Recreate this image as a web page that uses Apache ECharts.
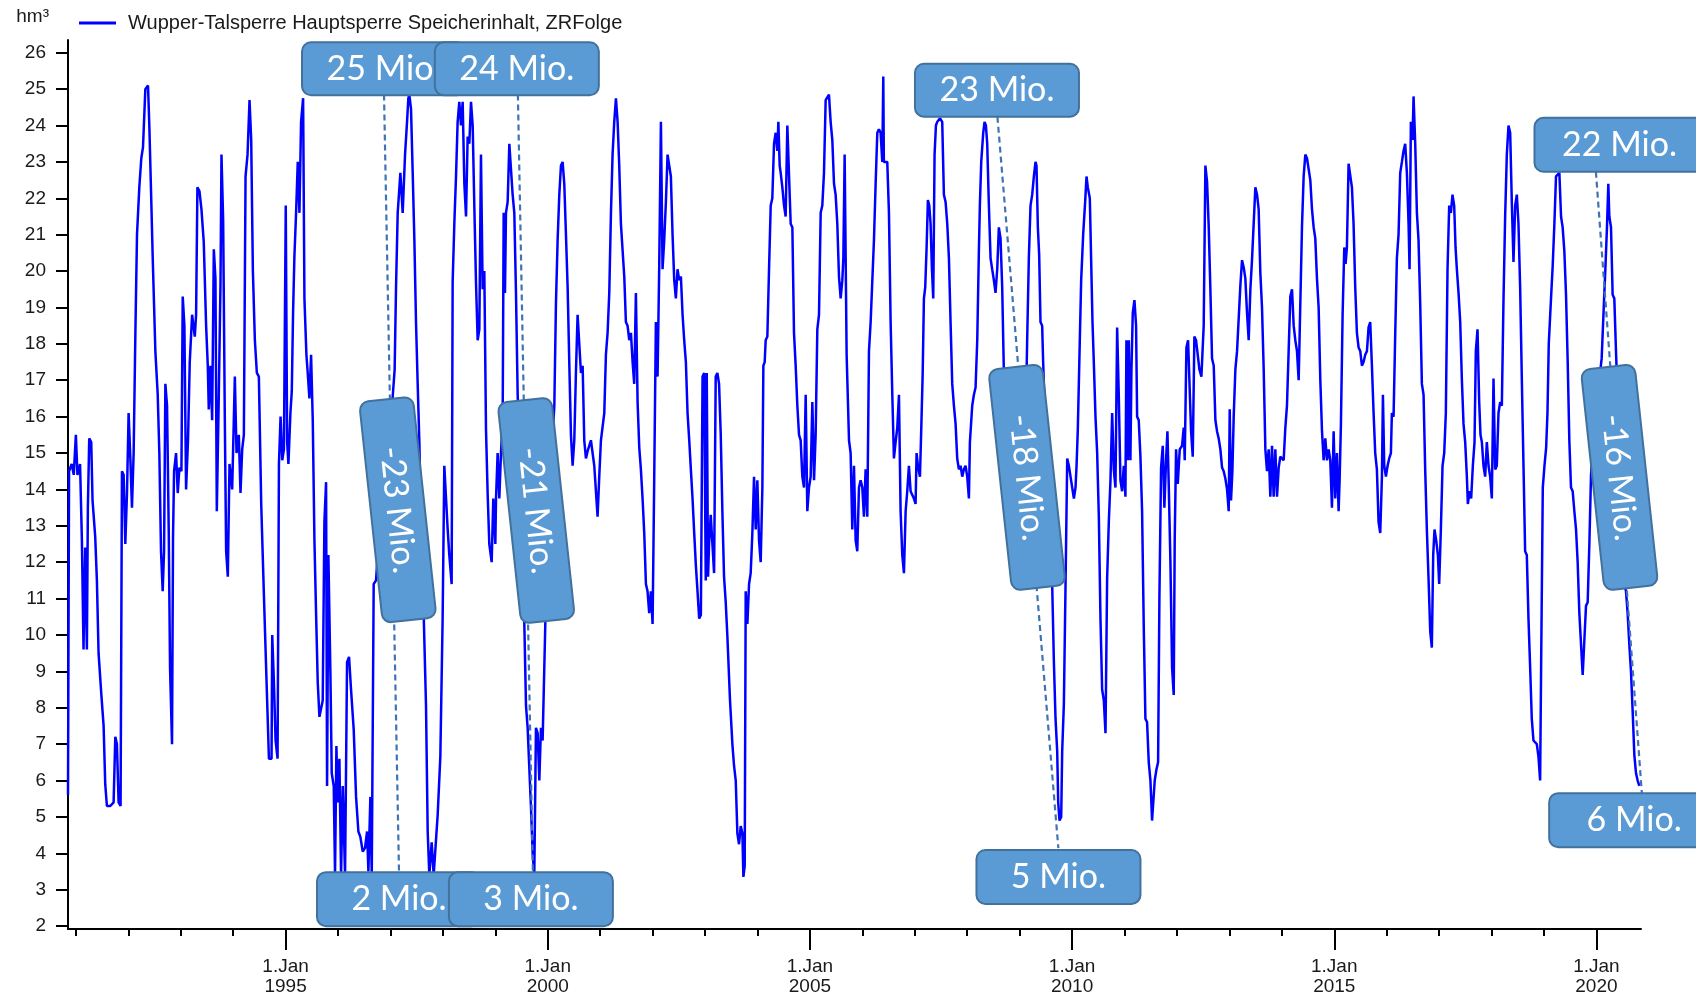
<!DOCTYPE html>
<html>
<head>
<meta charset="utf-8">
<script src="https://cdn.jsdelivr.net/npm/echarts@6/dist/echarts.min.js"></script>
<style>
html,body{margin:0;padding:0;background:#fff;}
#chart{width:1696px;height:997px;}
</style>
</head>
<body>
<div id="chart"></div>
<script>
const seriesName = 'Wupper-Talsperre Hauptsperre Speicherinhalt, ZRFolge';
const unitLabel = 'hm³';
const xMinorTicks = [1991,1992,1993,1994,1995,1996,1997,1998,1999,2000,2001,2002,2003,2004,2005,2006,2007,2008,2009,2010,2011,2012,2013,2014,2015,2016,2017,2018,2019,2020];
const xMajorTicks = [1995,2000,2005,2010,2015,2020];
const yTicks = [2,3,4,5,6,7,8,9,10,11,12,13,14,15,16,17,18,19,20,21,22,23,24,25,26];

// [decimal year, storage hm³]
const seg1991 = [[1990.85,5.6],[1990.87,14.5],[1990.92,14.7],[1990.96,14.4],[1991.0,15.5],[1991.03,14.4],[1991.08,14.7],[1991.10,14.7],[1991.115,12.6],[1991.146,9.6],[1991.178,12.4],[1991.21,9.6],[1991.229,13.5],[1991.255,15.4],[1991.293,15.3],[1991.318,13.7],[1991.369,12.7],[1991.401,11.5],[1991.433,9.5],[1991.484,8.4],[1991.529,7.5],[1991.56,5.9],[1991.592,5.3],[1991.656,5.3],[1991.72,5.4],[1991.752,7.2],[1991.783,7.0],[1991.815,5.4],[1991.853,5.3],[1991.879,14.5],[1991.911,14.4],[1991.943,12.5],[1991.975,13.9],[1992.006,16.1],[1992.038,14.9],[1992.07,13.5],[1992.102,15.0],[1992.134,18.2],[1992.166,21.0],[1992.21,22.3],[1992.248,23.1],[1992.28,23.4],[1992.325,25.0],[1992.376,25.1],[1992.401,24.0],[1992.439,21.9],[1992.465,20.4],[1992.516,17.8],[1992.561,16.6],[1992.592,15.0],[1992.624,12.3],[1992.656,11.2],[1992.682,12.3],[1992.707,16.9],[1992.739,16.3],[1992.771,12.9],[1992.796,9.1],[1992.834,7.0],[1992.853,12.7],[1992.873,14.5],[1992.911,15.0],[1992.943,13.9],[1992.975,14.6],[1993.013,14.5],[1993.038,19.3],[1993.07,18.5],[1993.102,14.0],[1993.14,15.4],[1993.172,17.5],[1993.217,18.8],[1993.268,18.2],[1993.293,18.8],[1993.318,22.3],[1993.357,22.2],[1993.395,21.7],[1993.439,20.8],[1993.484,18.5],[1993.516,17.4],[1993.535,16.2],[1993.567,17.4],[1993.599,15.9],[1993.631,20.6],[1993.662,19.8],[1993.688,13.4],[1993.726,16.6],[1993.758,19.6],[1993.777,23.2],[1993.809,21.4],[1993.841,15.9],[1993.866,12.3],[1993.898,11.6],[1993.93,14.7],[1993.981,14.0],[1994.032,17.1],[1994.064,15.0],[1994.108,15.5],[1994.14,13.9],[1994.172,15.1],[1994.204,15.5],[1994.236,22.6],[1994.274,23.2],[1994.312,24.7],[1994.344,23.6],[1994.376,20.0],[1994.414,18.1],[1994.452,17.2],[1994.49,17.1],[1994.535,13.6],[1994.58,11.4],[1994.618,9.6],[1994.65,8.1],[1994.682,6.6],[1994.732,6.6],[1994.745,10.0],[1994.777,8.7],[1994.809,7.1],[1994.847,6.6],[1994.873,14.7],[1994.904,16.0],[1994.936,14.8],[1994.968,15.1]];
const seg1995 = [[1995.003,21.8],[1995.029,15.3],[1995.054,14.7],[1995.092,16.1],[1995.118,16.7],[1995.143,18.9],[1995.168,20.4],[1995.2,21.6],[1995.232,23.0],[1995.264,21.6],[1995.295,24.1],[1995.334,24.75],[1995.359,19.25],[1995.397,17.7],[1995.422,17.2],[1995.454,16.5],[1995.486,17.7],[1995.518,15.9],[1995.55,12.6],[1995.581,10.6],[1995.613,8.7],[1995.645,7.75],[1995.677,7.7],[1995.708,8.2],[1995.74,13.1],[1995.772,14.2],[1995.791,5.85],[1995.816,12.2],[1995.854,9.0],[1995.88,6.2],[1995.918,5.85],[1995.943,3.4],[1995.969,6.95],[1995.994,5.4],[1996.026,6.6],[1996.058,3.4],[1996.09,5.85],[1996.134,3.4],[1996.172,9.25],[1996.21,9.4],[1996.248,8.5],[1996.299,7.4],[1996.344,5.55],[1996.388,4.6],[1996.426,4.45],[1996.471,4.05],[1996.515,4.15],[1996.554,4.6],[1996.579,3.5],[1996.617,5.55],[1996.643,3.4],[1996.68,11.4],[1996.725,11.5],[1996.769,12.5],[1996.82,13.1],[1996.884,13.4],[1996.947,15.7],[1997.03,16.3],[1997.08,17.3],[1997.106,19.55],[1997.138,21.6],[1997.189,22.7],[1997.233,21.6],[1997.278,23.2],[1997.316,24.1],[1997.341,24.75],[1997.36,24.85],[1997.392,24.45],[1997.424,22.7],[1997.456,20.85],[1997.487,18.6],[1997.519,16.9],[1997.551,15.3],[1997.583,12.9],[1997.633,10.6],[1997.678,8.05],[1997.71,4.6],[1997.741,3.4],[1997.786,4.3],[1997.824,3.4],[1997.85,3.4],[1997.9,5.05],[1997.951,6.65],[1997.995,10.45],[1998.027,14.65],[1998.059,14.65],[1998.091,12.9],[1998.122,12.2],[1998.167,11.4],[1998.186,19.7],[1998.218,21.3],[1998.25,22.6],[1998.281,24.1],[1998.313,24.65],[1998.345,24.0],[1998.377,24.65],[1998.409,22.4],[1998.441,21.5],[1998.472,23.7],[1998.504,23.5],[1998.536,24.65],[1998.568,24.0],[1998.599,21.8],[1998.631,19.7],[1998.663,18.1],[1998.695,18.4],[1998.726,23.2],[1998.758,19.5],[1998.79,20.0],[1998.822,15.65],[1998.853,13.9],[1998.885,12.5],[1998.93,12.0],[1998.961,13.75],[1999.0,12.5]];
const seg1999 = [[1999.013,13.75],[1999.044,15.0],[1999.076,13.75],[1999.108,15.0],[1999.14,15.95],[1999.159,21.6],[1999.184,19.4],[1999.203,21.6],[1999.235,21.9],[1999.267,23.5],[1999.299,23.5],[1999.33,22.1],[1999.362,21.6],[1999.394,19.4],[1999.426,16.6],[1999.49,13.2],[1999.553,10.3],[1999.585,8.05],[1999.616,7.45],[1999.648,6.35],[1999.68,5.25],[1999.712,4.0],[1999.743,3.4],[1999.775,7.45],[1999.807,7.3],[1999.839,6.0],[1999.87,7.45],[1999.902,7.1],[1999.934,7.1],[1999.953,10.3],[1999.97,12.0],[2000.05,14.3],[2000.125,16.3],[2000.156,19.1],[2000.188,20.85],[2000.22,22.1],[2000.252,22.9],[2000.283,23.0],[2000.315,22.4],[2000.347,21.0],[2000.379,19.55],[2000.41,17.5],[2000.442,15.5],[2000.474,14.65],[2000.506,15.35],[2000.537,17.2],[2000.569,18.8],[2000.601,18.0],[2000.633,17.2],[2000.665,17.4],[2000.696,15.35],[2000.728,14.85],[2000.76,15.05],[2000.823,15.35],[2000.887,14.65],[2000.95,13.25],[2000.982,14.35],[2001.014,15.35],[2001.078,16.1],[2001.109,17.7],[2001.141,18.3],[2001.173,19.4],[2001.205,21.6],[2001.236,23.2],[2001.268,24.1],[2001.3,24.75],[2001.332,24.1],[2001.363,22.9],[2001.395,21.3],[2001.459,19.85],[2001.49,18.6],[2001.522,18.5],[2001.554,18.1],[2001.586,18.3],[2001.618,17.5],[2001.649,16.9],[2001.681,19.4],[2001.713,16.4],[2001.745,15.15],[2001.776,14.55],[2001.808,13.75],[2001.84,12.8],[2001.872,11.4],[2001.903,11.2],[2001.935,10.6],[2001.967,11.2],[2001.999,10.3],[2002.03,14.25],[2002.062,18.6],[2002.094,17.1],[2002.126,20.15],[2002.158,24.1],[2002.189,20.05],[2002.221,20.85],[2002.253,21.9],[2002.285,23.2],[2002.348,22.6],[2002.38,21.0],[2002.412,19.75],[2002.443,19.25],[2002.475,20.05],[2002.507,19.75],[2002.539,19.85],[2002.571,18.8],[2002.602,18.1],[2002.634,17.5],[2002.666,16.1],[2002.698,15.35],[2002.729,14.55],[2002.761,13.75],[2002.793,12.8],[2002.825,11.9],[2002.856,11.2],[2002.888,10.45],[2002.92,10.55],[2002.952,17.1],[2002.983,17.2]];
const seg2003 = [[2003.013,11.5],[2003.032,17.2],[2003.057,11.6],[2003.076,12.5],[2003.108,13.3],[2003.14,12.5],[2003.172,11.7],[2003.203,17.1],[2003.235,17.2],[2003.267,16.9],[2003.299,15.5],[2003.33,13.4],[2003.362,11.6],[2003.394,10.9],[2003.426,9.95],[2003.476,8.2],[2003.521,7.0],[2003.553,6.4],[2003.585,6.0],[2003.616,4.55],[2003.648,4.25],[2003.68,4.75],[2003.712,4.55],[2003.731,3.35],[2003.756,3.65],[2003.775,11.2],[2003.807,10.3],[2003.839,11.4],[2003.87,11.7],[2003.902,12.8],[2003.934,14.35],[2003.966,12.9],[2003.997,14.25],[2004.029,12.6],[2004.061,12.0],[2004.093,14.05],[2004.112,17.4],[2004.137,17.5],[2004.156,18.1],[2004.188,18.2],[2004.22,20.05],[2004.252,21.8],[2004.283,22.0],[2004.315,23.5],[2004.347,23.8],[2004.379,23.3],[2004.398,24.1],[2004.423,22.9],[2004.442,22.7],[2004.474,22.3],[2004.506,21.8],[2004.537,21.5],[2004.569,24.0],[2004.601,24.0],[2004.633,21.3],[2004.665,21.2],[2004.696,18.3],[2004.728,17.4],[2004.76,16.3],[2004.792,15.5],[2004.823,15.35],[2004.855,14.35],[2004.887,14.05],[2004.919,16.6],[2004.95,13.4],[2004.982,14.05],[2005.014,14.35],[2005.046,16.4],[2005.078,14.25],[2005.109,15.5],[2005.141,18.4],[2005.173,18.8],[2005.205,21.6],[2005.236,21.8],[2005.268,22.7],[2005.3,24.7],[2005.332,24.75],[2005.363,24.85],[2005.395,24.1],[2005.427,23.6],[2005.459,22.4],[2005.49,22.1],[2005.522,21.3],[2005.554,19.85],[2005.586,19.25],[2005.618,19.75],[2005.637,20.35],[2005.662,23.2],[2005.681,23.2],[2005.7,17.7],[2005.745,15.35],[2005.776,15.0],[2005.808,12.9],[2005.84,14.65],[2005.872,12.6],[2005.903,12.3],[2005.935,14.05],[2005.967,14.25],[2005.999,14.05],[2006.03,13.25],[2006.062,14.55],[2006.094,13.25],[2006.126,17.8],[2006.158,18.6],[2006.189,18.6],[2006.221,20.85],[2006.253,22.4],[2006.285,23.8],[2006.316,23.9],[2006.348,23.8],[2006.38,23.0],[2006.399,25.35],[2006.41,23.0],[2006.443,23.0],[2006.475,23.0],[2006.507,21.6],[2006.539,18.6],[2006.571,16.6],[2006.602,14.85],[2006.634,15.3],[2006.666,15.7],[2006.698,16.6],[2006.729,13.4],[2006.761,12.2],[2006.793,11.7],[2006.825,13.4],[2006.856,13.95],[2006.888,14.65],[2006.92,13.95],[2006.952,13.95],[2006.983,13.75]];
const seg2007 = [[2007.015,13.6],[2007.034,15.0],[2007.06,14.65],[2007.098,14.35],[2007.123,15.65],[2007.149,17.1],[2007.174,19.25],[2007.199,19.55],[2007.225,20.65],[2007.25,21.95],[2007.276,21.8],[2007.301,21.3],[2007.327,20.05],[2007.352,19.25],[2007.377,23.2],[2007.403,24.0],[2007.428,24.1],[2007.479,24.2],[2007.523,24.1],[2007.555,22.1],[2007.587,21.9],[2007.619,21.3],[2007.651,20.35],[2007.682,18.6],[2007.714,16.9],[2007.746,16.3],[2007.778,15.8],[2007.809,14.85],[2007.841,14.55],[2007.873,14.65],[2007.905,14.35],[2007.936,14.55],[2007.968,14.65],[2008.0,14.35],[2008.032,13.75],[2008.051,15.3],[2008.076,15.25],[2008.095,16.3],[2008.127,16.6],[2008.159,16.8],[2008.191,18.1],[2008.222,20.55],[2008.241,21.8],[2008.267,23.0],[2008.305,23.8],[2008.33,24.1],[2008.356,24.0],[2008.381,23.5],[2008.413,21.8],[2008.445,20.35],[2008.476,20.05],[2008.508,19.75],[2008.54,19.4],[2008.572,20.05],[2008.603,21.2],[2008.635,20.9],[2008.667,19.55],[2008.699,17.2],[2008.76,15.3],[2008.85,14.3],[2008.95,14.6],[2009.05,15.3],[2009.12,16.3],[2009.143,18.1],[2009.175,20.35],[2009.207,21.8],[2009.239,22.1],[2009.271,22.6],[2009.302,23.0],[2009.321,22.9],[2009.347,21.2],[2009.372,20.45],[2009.397,18.6],[2009.429,18.5],[2009.448,17.5],[2009.5,15.3],[2009.56,12.7],[2009.62,11.4],[2009.652,9.3],[2009.684,7.7],[2009.716,6.8],[2009.735,5.4],[2009.76,4.9],[2009.792,5.0],[2009.811,6.8],[2009.843,8.1],[2009.875,11.4],[2009.907,14.85],[2009.938,14.65],[2009.97,14.35],[2010.002,14.05],[2010.034,13.75],[2010.065,14.05],[2010.085,14.65],[2010.109,15.65],[2010.147,18.1],[2010.173,19.75],[2010.211,21.0],[2010.249,21.9],[2010.275,22.6],[2010.3,22.3],[2010.338,22.0],[2010.364,20.25],[2010.389,18.6],[2010.414,17.5],[2010.446,16.0],[2010.478,15.0],[2010.51,13.25],[2010.541,10.45],[2010.573,8.5],[2010.605,8.2],[2010.637,7.3],[2010.668,11.55],[2010.7,13.1],[2010.732,14.25],[2010.764,16.1],[2010.795,14.55],[2010.827,14.05],[2010.859,18.45],[2010.89,16.6],[2010.922,14.25],[2010.954,13.95],[2010.986,14.65]];
const seg2011 = [[2011.017,13.8],[2011.036,18.1],[2011.062,14.8],[2011.081,18.1],[2011.112,14.8],[2011.132,17.3],[2011.157,18.85],[2011.189,19.2],[2011.22,18.5],[2011.24,16.0],[2011.271,15.9],[2011.303,14.9],[2011.335,13.4],[2011.367,10.2],[2011.398,7.7],[2011.43,7.6],[2011.462,6.5],[2011.494,6.0],[2011.525,4.9],[2011.557,4.9],[2011.576,6.0],[2011.608,6.3],[2011.64,6.5],[2011.665,11.0],[2011.697,14.6],[2011.729,15.2],[2011.76,13.5],[2011.792,14.8],[2011.818,15.6],[2011.843,14.15],[2011.875,12.0],[2011.907,9.1],[2011.938,8.35],[2011.957,12.6],[2011.983,15.1],[2012.015,14.15],[2012.053,15.1],[2012.097,15.2],[2012.129,15.7],[2012.148,14.8],[2012.18,17.9],[2012.212,18.1],[2012.237,17.0],[2012.269,15.6],[2012.301,14.9],[2012.332,18.2],[2012.364,18.1],[2012.396,18.1],[2012.428,17.3],[2012.466,17.1],[2012.51,18.5],[2012.542,22.9],[2012.574,22.45],[2012.606,21.2],[2012.637,19.5],[2012.669,17.6],[2012.701,17.4],[2012.733,15.9],[2012.764,15.6],[2012.796,15.4],[2012.828,15.1],[2012.86,14.6],[2012.891,14.5],[2012.923,14.3],[2012.955,14.0],[2012.987,13.4],[2013.006,16.2],[2013.031,13.7],[2013.057,14.5],[2013.082,16.0],[2013.114,17.3],[2013.146,17.8],[2013.177,17.8],[2013.209,19.6],[2013.241,20.3],[2013.273,20.1],[2013.304,19.8],[2013.336,18.85],[2013.368,18.1],[2013.4,19.5],[2013.431,20.3],[2013.463,20.3],[2013.495,22.3],[2013.527,22.1],[2013.558,21.7],[2013.59,19.95],[2013.622,19.0],[2013.654,17.3],[2013.686,15.1],[2013.717,14.5],[2013.749,15.1],[2013.781,13.8],[2013.813,15.2],[2013.844,13.8],[2013.876,15.1],[2013.908,13.8],[2013.94,14.6],[2013.971,14.9],[2014.003,14.9],[2014.035,14.8],[2014.067,15.7],[2014.098,16.3],[2014.13,17.8],[2014.162,19.3],[2014.194,19.5],[2014.226,18.5],[2014.257,18.1],[2014.289,17.8],[2014.321,17.0],[2014.353,17.0],[2014.384,21.2],[2014.416,22.6],[2014.448,23.2],[2014.48,23.1],[2014.511,23.1],[2014.543,22.5],[2014.575,21.7],[2014.607,21.2],[2014.638,20.9],[2014.67,19.8],[2014.702,19.0],[2014.734,17.0],[2014.766,15.6],[2014.797,14.8],[2014.829,15.4],[2014.861,14.8],[2014.893,15.1],[2014.924,14.8],[2014.956,13.5],[2014.988,15.6]];
const seg2015 = [[2015.019,13.75],[2015.051,15.0],[2015.083,13.4],[2015.102,14.25],[2015.127,15.8],[2015.159,18.8],[2015.191,20.65],[2015.216,20.2],[2015.241,20.65],[2015.273,22.95],[2015.305,22.9],[2015.337,22.3],[2015.368,21.3],[2015.4,19.55],[2015.432,18.3],[2015.464,17.9],[2015.496,17.8],[2015.527,17.4],[2015.559,17.5],[2015.591,17.7],[2015.623,17.8],[2015.654,18.45],[2015.686,18.6],[2015.718,17.4],[2015.75,16.1],[2015.781,15.0],[2015.813,14.55],[2015.845,13.1],[2015.877,12.8],[2015.909,14.35],[2015.928,16.6],[2015.953,14.65],[2015.985,14.35],[2016.017,14.65],[2016.048,14.85],[2016.08,15.0],[2016.099,16.1],[2016.131,16.0],[2016.163,18.3],[2016.194,20.35],[2016.226,21.0],[2016.258,22.7],[2016.29,23.0],[2016.321,23.3],[2016.353,23.5],[2016.385,22.7],[2016.417,21.3],[2016.436,20.05],[2016.461,24.1],[2016.493,23.6],[2016.512,24.8],[2016.544,23.5],[2016.576,21.6],[2016.607,20.85],[2016.639,19.1],[2016.671,16.9],[2016.703,16.6],[2016.734,14.55],[2016.766,12.9],[2016.798,11.55],[2016.83,10.1],[2016.861,9.65],[2016.887,12.2],[2016.912,12.9],[2016.944,12.6],[2016.976,12.2],[2017.001,11.4],[2017.033,12.9],[2017.065,14.65],[2017.097,15.0],[2017.128,16.1],[2017.16,20.05],[2017.192,21.8],[2017.224,21.6],[2017.255,22.1],[2017.287,21.8],[2017.313,20.65],[2017.338,20.05],[2017.37,19.4],[2017.402,18.6],[2017.433,17.05],[2017.465,15.8],[2017.497,15.3],[2017.529,14.35],[2017.548,13.6],[2017.579,13.95],[2017.611,13.75],[2017.643,14.65],[2017.675,15.3],[2017.7,17.8],[2017.732,18.4],[2017.764,16.4],[2017.789,15.5],[2017.815,15.3],[2017.846,14.65],[2017.878,14.35],[2017.91,15.3],[2017.942,14.65],[2017.973,14.35],[2018.005,13.75],[2018.037,17.05],[2018.069,14.55],[2018.1,14.65],[2018.132,16.1],[2018.164,16.4],[2018.196,16.3],[2018.228,19.25],[2018.259,21.5],[2018.291,23.2],[2018.323,24.0],[2018.355,23.8],[2018.386,21.9],[2018.418,20.25],[2018.45,21.8],[2018.482,22.1],[2018.513,21.3],[2018.545,19.55],[2018.577,17.05],[2018.609,14.65],[2018.64,12.3],[2018.672,12.2],[2018.704,10.45],[2018.736,9.1],[2018.767,7.7],[2018.799,7.1],[2018.831,7.1],[2018.863,7.0],[2018.895,6.65],[2018.926,6.0],[2018.945,9.1],[2018.977,14.05],[2019.009,14.65],[2019.041,15.15],[2019.066,16.1],[2019.091,18.0]];
const seg2019 = [[2019.134,19.25],[2019.166,20.15],[2019.198,21.3],[2019.229,22.6],[2019.261,22.6],[2019.293,22.7],[2019.325,21.5],[2019.356,21.2],[2019.388,20.55],[2019.42,19.35],[2019.452,17.5],[2019.483,15.35],[2019.515,14.05],[2019.547,13.95],[2019.579,13.4],[2019.611,12.9],[2019.642,12.0],[2019.674,10.6],[2019.706,10.6],[2019.738,8.9],[2019.769,8.9],[2019.801,10.8],[2019.833,10.9],[2019.865,12.5],[2019.896,14.35],[2019.93,15.35],[2020.0,16.3],[2020.1,17.6],[2020.138,18.95],[2020.17,20.05],[2020.201,21.2],[2020.227,22.4],[2020.246,21.5],[2020.278,21.2],[2020.309,19.35],[2020.341,19.25],[2020.373,17.8],[2020.42,15.8],[2020.48,13.5],[2020.532,11.4],[2020.564,11.2],[2020.595,10.6],[2020.627,9.75],[2020.659,9.0],[2020.691,7.9],[2020.723,6.7],[2020.755,6.2],[2020.786,6.0],[2020.818,5.85]];

// annotation texts and anchors (data coordinates)
const hBoxes = [
  {text:'25 Mio.', at:[1996.877,25.56], w:164, h:53},
  {text:'24 Mio.', at:[1999.41,25.56], w:164, h:53},
  {text:'2 Mio.', at:[1997.163,2.74], w:164, h:54},
  {text:'3 Mio.', at:[1999.678,2.74], w:164, h:54},
  {text:'23 Mio.', at:[2008.567,24.97], w:164, h:53},
  {text:'5 Mio.', at:[2009.74,3.35], w:164, h:54},
  {text:'22 Mio.', at:[2020.44,23.47], w:170, h:54},
  {text:'6 Mio.', at:[2020.72,4.91], w:170, h:54}
];
const rBoxes = [
  {text:'-23 Mio.', at:[1997.14,13.44]},
  {text:'-21 Mio.', at:[1999.78,13.42]},
  {text:'-18 Mio.', at:[2009.14,14.33]},
  {text:'-16 Mio.', at:[2020.44,14.33]}
];
const leaders = [
  [[1996.877,24.85],[1997.163,3.48]],
  [[1999.43,24.85],[1999.716,3.48]],
  [[2008.576,24.24],[2009.738,4.14]],
  [[2019.99,22.73],[2020.866,5.66]]
];

const data = [].concat(seg1991, seg1995, seg1999, seg2003, seg2007, seg2011, seg2015, seg2019);

const FONT = 'Liberation Sans, Arial, sans-serif';
const TXT = '#1a1a1a';
const axisLineStyle = {color:'#000', width:2};

const chart = echarts.init(document.getElementById('chart'), null, {renderer:'canvas'});
const xmin = 1990.85, xmax = 2020.85;
chart.setOption({
  animation:false,
  backgroundColor:'#ffffff',
  grid:{left:68, right:55, top:40, bottom:68, containLabel:false},
  legend:{
    left:79, top:13, padding:0, icon:'rect', itemWidth:37, itemHeight:3,
    textStyle:{fontFamily:FONT, fontSize:20, color:TXT, padding:[0,0,0,7]},
    data:[seriesName]
  },
  xAxis:[
    {type:'value', min:xmin, max:xmax, position:'bottom',
     axisLine:{show:true, onZero:false, lineStyle:axisLineStyle},
     axisTick:{show:true, customValues:xMinorTicks, length:7, lineStyle:axisLineStyle},
     axisLabel:{show:false}, splitLine:{show:false}},
    {type:'value', min:xmin, max:xmax, position:'bottom',
     axisLine:{show:false, onZero:false},
     axisTick:{show:true, customValues:xMajorTicks, length:21, lineStyle:axisLineStyle},
     axisLabel:{show:true, customValues:xMajorTicks, formatter:(v)=>'1.Jan\n'+v,
       margin:28, fontSize:19, lineHeight:20, fontFamily:FONT, color:TXT},
     splitLine:{show:false}}
  ],
  yAxis:{
    type:'value', min:1.92, max:26.35,
    name:unitLabel, nameLocation:'end', nameGap:23,
    nameTextStyle:{fontFamily:FONT, fontSize:19, color:TXT, align:'right', verticalAlign:'middle', padding:[0,19,0,0]},
    axisLine:{show:true, onZero:false, lineStyle:axisLineStyle},
    axisTick:{show:true, customValues:yTicks, length:12, lineStyle:axisLineStyle},
    axisLabel:{show:true, customValues:yTicks, margin:22, fontSize:19, fontFamily:FONT, color:TXT},
    splitLine:{show:false}
  },
  series:[{
    name:seriesName, type:'line', xAxisIndex:0, yAxisIndex:0,
    data:data, showSymbol:false, symbol:'none', z:3,
    lineStyle:{color:'#0000ff', width:2.5}, itemStyle:{color:'#0000ff'}
  }]
});

function px(p){ return chart.convertToPixel({xAxisIndex:0, yAxisIndex:0}, p); }
const BOX_FILL = '#5B9BD5', BOX_STROKE = '#41719C', LEAD = '#3F73B4';
const BOX_FONT = '34px Lato, "Open Sans", sans-serif';
const g = [];
leaders.forEach(function(l){
  const a = px(l[0]), b = px(l[1]);
  g.push({type:'line', z:40, shape:{x1:a[0], y1:a[1], x2:b[0], y2:b[1]},
    style:{stroke:LEAD, lineWidth:2.2, lineDash:[6,4]}});
});
let zc = 50;
function boxGroup(b, w, h, rot){
  const c = px(b.at);
  const zr = zc++, zt = zc++;
  return {type:'group', x:c[0], y:c[1], rotation:rot, children:[
    {type:'rect', z:zr, shape:{x:-w/2, y:-h/2, width:w, height:h, r:9},
     style:{fill:BOX_FILL, stroke:BOX_STROKE, lineWidth:2}},
    {type:'text', z:zt, x:0, y:0, style:{text:b.text, x:0, y:0, fill:'#ffffff', font:BOX_FONT,
      align:'center', verticalAlign:'middle', textAlign:'center', textVerticalAlign:'middle'}}
  ]};
}
rBoxes.forEach(function(b){ g.push(boxGroup(b, 222, 54, -1.464)); });
hBoxes.forEach(function(b){ g.push(boxGroup(b, b.w, b.h, 0)); });
chart.setOption({graphic:g});
</script>
</body>
</html>
